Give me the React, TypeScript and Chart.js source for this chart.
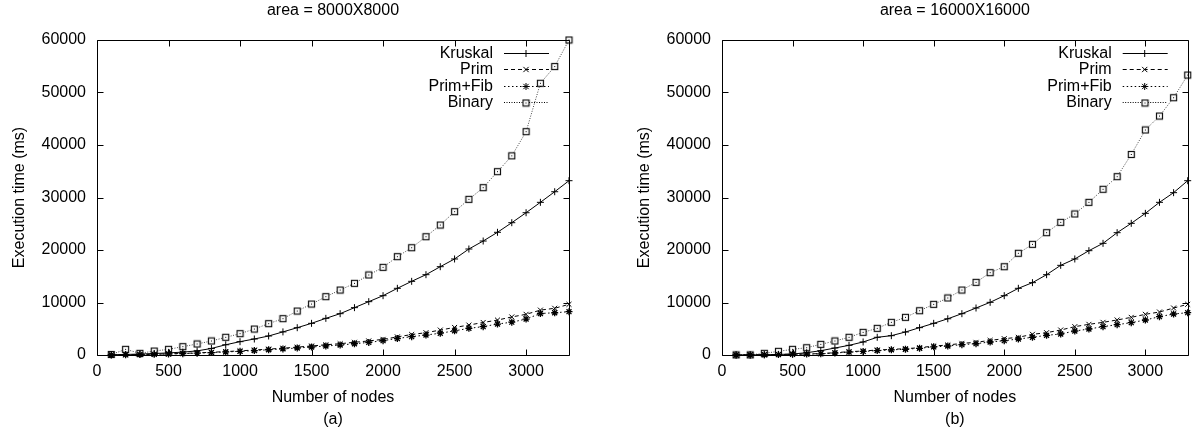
import React, { useEffect, useRef } from 'react';
import { Chart, registerables } from 'chart.js';
Chart.register(...registerables);

const FONT = "'Liberation Sans', Arial, Helvetica, sans-serif";

const nodes = [100, 200, 300, 400, 500, 600, 700, 800, 900, 1000, 1100, 1200, 1300, 1400, 1500, 1600, 1700, 1800, 1900, 2000, 2100, 2200, 2300, 2400, 2500, 2600, 2700, 2800, 2900, 3000, 3100, 3200, 3300];
const xTicks = [0, 500, 1000, 1500, 2000, 2500, 3000];
const yTicks = [0, 10000, 20000, 30000, 40000, 50000, 60000];
const seriesNames = ['Kruskal', 'Prim', 'Prim+Fib', 'Binary'];

// panel (a): area = 8000X8000
const kruskalA = [50, 100, 180, 280, 400, 550, 780, 1250, 1950, 2540, 3050, 3620, 4400, 5200, 6030, 6980, 7870, 9020, 10160, 11300, 12700, 14030, 15300, 16820, 18290, 20190, 21710, 23370, 25200, 27100, 29080, 31100, 33200];
const primA = [20, 50, 90, 150, 220, 300, 400, 520, 650, 790, 950, 1120, 1300, 1500, 1720, 1950, 2150, 2420, 2680, 2980, 3450, 3900, 4250, 4750, 5250, 5700, 6200, 6650, 7250, 7750, 8550, 8900, 9650];
const fibA = [15, 40, 80, 130, 190, 260, 350, 460, 580, 700, 840, 1000, 1160, 1330, 1520, 1720, 1900, 2150, 2400, 2730, 3150, 3500, 3800, 4150, 4600, 5080, 5400, 5900, 6250, 6850, 7900, 8050, 8250];
const binaryA = [100, 1080, 320, 760, 1080, 1590, 2100, 2670, 3370, 4060, 4950, 5970, 6920, 8380, 9710, 11110, 12380, 13650, 15240, 16700, 18730, 20440, 22530, 24760, 27300, 29650, 31870, 34920, 37930, 42540, 51750, 54950, 60000];

// panel (b): area = 16000X16000
const kruskalB = [20, 20, 50, 100, 190, 440, 820, 1330, 1840, 2480, 3370, 3680, 4380, 5210, 6030, 6900, 7870, 8950, 10030, 11300, 12700, 13780, 15300, 17080, 18290, 19870, 21270, 23300, 25080, 26980, 29080, 30920, 33200];
const primB = [10, 20, 50, 100, 150, 200, 260, 440, 630, 760, 950, 1080, 1200, 1390, 1710, 1900, 2220, 2410, 2790, 3110, 3370, 3940, 4250, 4760, 5400, 5840, 6220, 6670, 7170, 7750, 8190, 8950, 9650];
const fibB = [5, 15, 40, 80, 120, 170, 230, 380, 550, 680, 840, 980, 1100, 1280, 1550, 1710, 1970, 2160, 2480, 2730, 3050, 3370, 3750, 4000, 4570, 4950, 5400, 5780, 6160, 6670, 7300, 7810, 8060];
const binaryB = [20, 20, 320, 700, 1080, 1390, 2030, 2670, 3370, 4320, 5080, 6220, 7170, 8440, 9650, 10860, 12380, 13840, 15680, 16820, 19370, 21080, 23300, 25270, 26860, 29080, 31560, 33970, 38200, 42860, 45520, 49000, 53330];

type Style = { color: string; dash: number[]; marker: string; width: number };
const styles: Style[] = [
  { color: '#000', dash: [], marker: 'plus', width: 1 },
  { color: '#000', dash: [4, 3], marker: 'x', width: 1 },
  { color: '#000', dash: [1.5, 2.5], marker: 'star', width: 1 },
  { color: '#444', dash: [1, 1.5], marker: 'square', width: 1 },
];

function makeSquare(): HTMLCanvasElement {
  const c = document.createElement('canvas');
  c.width = 9;
  c.height = 9;
  const g = c.getContext('2d')!;
  g.fillStyle = '#fff';
  g.fillRect(1, 1, 7, 7);
  g.strokeStyle = '#111';
  g.lineWidth = 1.2;
  g.strokeRect(1.5, 1.5, 6, 6);
  g.fillStyle = '#000';
  g.fillRect(4, 4, 1, 1);
  return c;
}

function drawMarker(ctx: CanvasRenderingContext2D, m: string, x: number, y: number, sq: HTMLCanvasElement) {
  const r = 3.5;
  ctx.save();
  ctx.setLineDash([]);
  ctx.strokeStyle = '#000';
  ctx.lineWidth = 1;
  ctx.beginPath();
  if (m === 'plus' || m === 'star') {
    ctx.moveTo(x - r, y); ctx.lineTo(x + r, y);
    ctx.moveTo(x, y - r); ctx.lineTo(x, y + r);
  }
  if (m === 'x' || m === 'star') {
    const d = r * 0.75;
    ctx.moveTo(x - d, y - d); ctx.lineTo(x + d, y + d);
    ctx.moveTo(x - d, y + d); ctx.lineTo(x + d, y - d);
  }
  ctx.stroke();
  if (m === 'square') ctx.drawImage(sq, Math.round(x) - 4.5, Math.round(y) - 4.5);
  ctx.restore();
}

type PanelProps = {
  title: string;
  sub: string;
  series: number[][];
  width: number;
  left: number;
  axisWidth: number;
  padRight: number;
  yTitleX: number;
};

function Panel(p: PanelProps) {
  const ref = useRef<HTMLCanvasElement>(null);
  useEffect(() => {
    const sq = makeSquare();
    const pointStyles: any[] = ['cross', 'crossRot', 'star', sq];
    const datasets = p.series.map((vals, i) => ({
      label: seriesNames[i],
      data: nodes.map((n, j) => ({ x: n, y: vals[j] })),
      borderColor: styles[i].color,
      borderWidth: styles[i].width,
      borderDash: styles[i].dash,
      pointStyle: pointStyles[i],
      pointRadius: 3.5,
      pointBorderColor: '#000',
      pointBackgroundColor: '#000',
      pointBorderWidth: i === 2 ? 1.3 : 1,
      tension: 0,
      fill: false,
      clip: false as any,
    }));
    const framePlugin = {
      id: 'frame',
      afterDatasetsDraw(chart: any) {
        const { ctx, chartArea, scales } = chart;
        const L = Math.round(chartArea.left) + 0.5;
        const R = Math.round(chartArea.right) + 0.5;
        const T = Math.round(chartArea.top) + 0.5;
        const B = Math.round(chartArea.bottom) + 0.5;
        ctx.save();
        ctx.strokeStyle = '#000';
        ctx.lineWidth = 1;
        ctx.setLineDash([]);
        ctx.beginPath();
        ctx.moveTo(L, T); ctx.lineTo(R, T); ctx.lineTo(R, B); ctx.lineTo(L, B); ctx.closePath();
        const tl = 6;
        xTicks.forEach((v) => {
          const px = Math.round(scales.x.getPixelForValue(v)) + 0.5;
          ctx.moveTo(px, B); ctx.lineTo(px, B - tl);
          ctx.moveTo(px, T); ctx.lineTo(px, T + tl);
        });
        yTicks.forEach((v) => {
          const py = Math.round(scales.y.getPixelForValue(v)) + 0.5;
          ctx.moveTo(L, py); ctx.lineTo(L + tl, py);
          ctx.moveTo(R, py); ctx.lineTo(R - tl, py);
        });
        ctx.stroke();
        ctx.restore();
      },
      afterDraw(chart: any) {
        const { ctx, chartArea } = chart;
        const { left, right, top, bottom } = chartArea;
        const cx = (left + right) / 2;
        ctx.save();
        ctx.fillStyle = '#000';
        ctx.font = `16px ${FONT}`;
        ctx.textAlign = 'center';
        ctx.textBaseline = 'middle';
        ctx.fillText(p.title, cx, 11);
        ctx.fillText('Number of nodes', cx, 398);
        ctx.fillText(p.sub, cx, 420);
        ctx.save();
        ctx.translate(p.yTitleX, (top + bottom) / 2);
        ctx.rotate(-Math.PI / 2);
        ctx.fillText('Execution time (ms)', 0, 0);
        ctx.restore();
        // legend
        seriesNames.forEach((name, i) => {
          const yy = Math.round(top + 13 + i * 16.3) + 0.5;
          ctx.textAlign = 'right';
          ctx.fillStyle = '#000';
          ctx.fillText(name, right - 76, yy);
          ctx.save();
          ctx.strokeStyle = '#000';
          ctx.lineWidth = 1;
          ctx.setLineDash(styles[i].dash);
          ctx.beginPath();
          ctx.moveTo(right - 65, yy);
          ctx.lineTo(right - 20, yy);
          ctx.stroke();
          ctx.restore();
          drawMarker(ctx, styles[i].marker, right - 43, yy, sq);
        });
        ctx.restore();
      },
    };
    const chart = new Chart(ref.current!, {
      type: 'line',
      data: { datasets },
      options: {
        animation: false,
        responsive: false,
        maintainAspectRatio: false,
        layout: { padding: { top: 40, right: p.padRight, bottom: 0, left: 0 } },
        plugins: { legend: { display: false }, tooltip: { enabled: false }, title: { display: false } },
        elements: { line: { borderCapStyle: 'butt' } },
        scales: {
          x: {
            type: 'linear',
            min: 0,
            max: 3300,
            grid: { display: false, drawTicks: false },
            border: { display: false },
            ticks: {
              color: '#000',
              font: { size: 16, family: FONT },
              padding: 7,
              maxRotation: 0,
              autoSkip: false,
              callback: (v: any) => String(v),
            },
            afterBuildTicks: (s: any) => { s.ticks = xTicks.map((v) => ({ value: v })); },
            afterFit: (s: any) => { s.height = 77; },
          },
          y: {
            type: 'linear',
            min: 0,
            max: 60000,
            grid: { display: false, drawTicks: false },
            border: { display: false },
            ticks: {
              color: '#000',
              font: { size: 16, family: FONT },
              padding: 11,
              autoSkip: false,
              callback: (v: any) => String(v),
            },
            afterBuildTicks: (s: any) => { s.ticks = yTicks.map((v) => ({ value: v })); },
            afterFit: (s: any) => { s.width = p.axisWidth; },
          },
        },
      } as any,
      plugins: [framePlugin],
    });
    return () => chart.destroy();
  }, []);
  return (
    <canvas
      ref={ref}
      width={p.width}
      height={432}
      style={{ position: 'absolute', left: p.left, top: 0, width: p.width, height: 432 }}
    />
  );
}

export default function App() {
  return (
    <div style={{ position: 'fixed', left: 0, top: 0, width: 1193, height: 432, background: '#fff', overflow: 'hidden' }}>
      <Panel
        title="area = 8000X8000"
        sub="(a)"
        series={[kruskalA, primA, fibA, binaryA]}
        width={600}
        left={0}
        axisWidth={97}
        padRight={31}
        yTitleX={20}
      />
      <Panel
        title="area = 16000X16000"
        sub="(b)"
        series={[kruskalB, primB, fibB, binaryB]}
        width={593}
        left={600}
        axisWidth={122}
        padRight={0}
        yTitleX={45}
      />
    </div>
  );
}
